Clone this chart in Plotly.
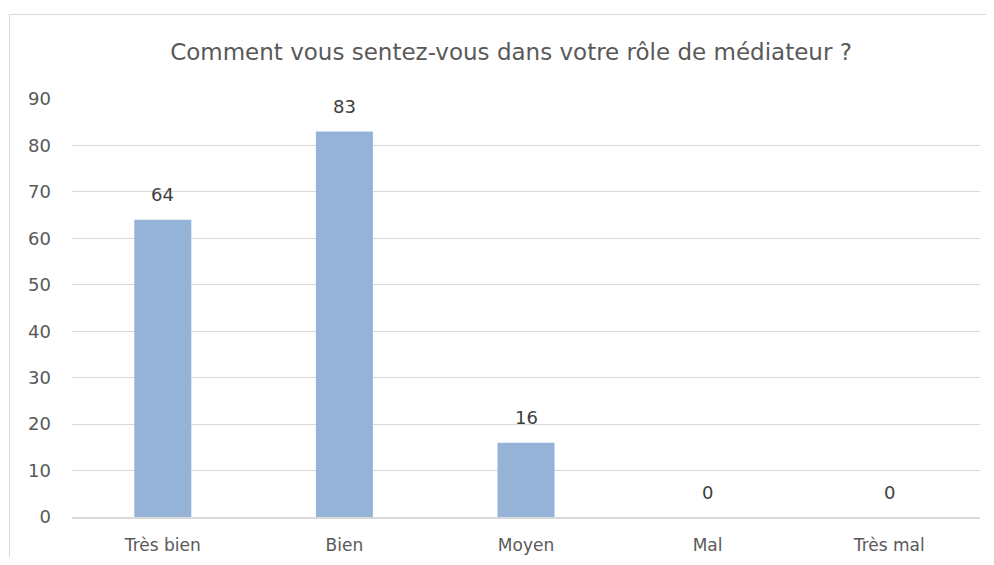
import plotly.graph_objects as go

categories = ["Très bien", "Bien", "Moyen", "Mal", "Très mal"]
values = [64, 83, 16, 0, 0]
y_ticks = [0, 10, 20, 30, 40, 50, 60, 70, 80, 90]
title = "Comment vous sentez-vous dans votre rôle de médiateur ?"

FONT = "'DejaVu Sans', sans-serif"

fig = go.Figure()
fig.add_trace(go.Bar(
    x=categories, y=values,
    marker=dict(color="#95B3D7", line=dict(width=0)),
    width=0.314,
    hoverinfo="x+y",
))

# page body has an 8px margin on each side; keep the page within the window
OFF = 8
W, H = 994 - 2 * OFF, 565 - 2 * OFF
ml, mt = 72 - OFF, 99 - OFF
pw, ph = 908, 418
mr = W - ml - pw
mb = H - mt - ph
bx = (9.5 - 72) / pw
by = 1 + (99 - 14.5) / ph
bx_right = (W - ml) / pw
by_bottom = -mb / ph

annotations = [
    dict(x=c, y=v, xref="x", yref="y", text=str(v), showarrow=False,
         yanchor="middle", yshift=25,
         font=dict(family=FONT, size=18, color="#404040"))
    for c, v in zip(categories, values)
]

fig.update_layout(
    width=W, height=H,
    margin=dict(l=ml, r=mr, t=mt, b=mb, pad=0, autoexpand=False),
    paper_bgcolor="white", plot_bgcolor="white",
    title=dict(text=title, x=(511 - 72) / pw, xref="paper", xanchor="center",
               y=1 - (52 - OFF) / H, yanchor="middle",
               font=dict(family=FONT, size=23, color="#595959")),
    showlegend=False,
    xaxis=dict(
        showgrid=False, showline=True, linecolor="#D9D9D9", linewidth=2,
        ticks="", tickfont=dict(family=FONT, size=17, color="#595959"),
        ticklabelstandoff=12, automargin=False,
    ),
    yaxis=dict(
        range=[0, 90], tickvals=y_ticks, showgrid=True, gridcolor="#D9D9D9",
        gridwidth=1, zeroline=False, showline=False, ticks="",
        tickfont=dict(family=FONT, size=18, color="#595959"),
        ticklabelstandoff=20, automargin=False,
    ),
    annotations=annotations,
    shapes=[
        dict(type="path", xref="paper", yref="paper",
             path=f"M {bx} {by_bottom} L {bx} {by} L {bx_right} {by}",
             line=dict(color="#D9D9D9", width=1)),
    ],
)

fig.write_html("out.html")
